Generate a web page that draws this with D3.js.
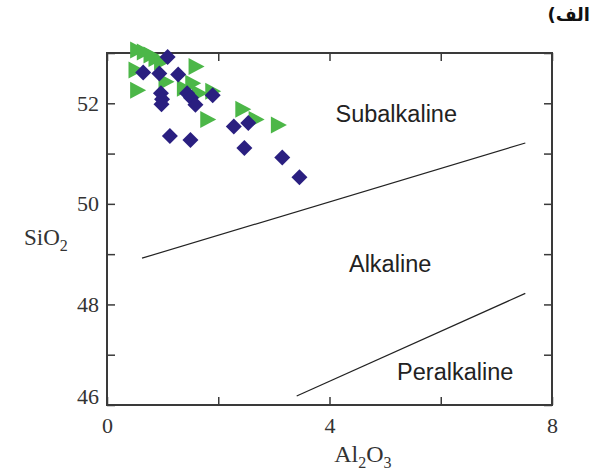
<!DOCTYPE html>
<html>
<head>
<meta charset="utf-8">
<script src="https://cdn.jsdelivr.net/npm/d3@7"></script>
<style>
  body { margin: 0; background: #fff; }
</style>
</head>
<body>
<div id="chart"></div>
<script>
// Blue diamonds
const diamondAl = [1.09, 0.65, 0.94, 1.28, 0.97, 0.99, 0.98, 1.44, 1.51, 1.59, 1.90, 2.28, 2.54, 1.13, 1.50, 2.47, 3.15, 3.46];
const diamondSi = [52.92, 52.61, 52.59, 52.57, 52.20, 52.08, 51.98, 52.20, 52.11, 51.97, 52.16, 51.54, 51.61, 51.35, 51.27, 51.11, 50.92, 50.53];

// Green triangles
const triangleAl = [0.56, 0.68, 0.80, 0.89, 0.99, 0.53, 0.56, 1.07, 1.61, 1.55, 1.67, 1.40, 1.82, 2.45, 2.69, 3.09, 1.91];
const triangleSi = [53.06, 53.02, 52.96, 52.89, 52.82, 52.66, 52.26, 52.43, 52.73, 52.40, 52.20, 52.30, 51.68, 51.88, 51.68, 51.57, 52.24];

// Field boundaries (Al2O3, SiO2 end points)
const boundaryAl = [[0.63, 7.52], [3.41, 7.52]];
const boundarySi = [[48.92, 51.21], [46.18, 48.22]];

// Field names and where they sit
const fieldNames = ["Subalkaline", "Alkaline", "Peralkaline"];
const fieldAl = [5.2, 5.09, 6.26];
const fieldSi = [51.63, 48.64, 46.5];

// Ticks
const xTicks = [0, 2, 4, 6, 8];
const xTickLabels = [0, 4, 8];
const yTicks = [46, 47, 48, 49, 50, 51, 52, 53];
const yTickLabels = [46, 48, 50, 52];

const width = 594, height = 470;
const margin = { top: 53, right: 42, bottom: 65, left: 107 };
const innerWidth = width - margin.left - margin.right;
const innerHeight = height - margin.top - margin.bottom;

const xScale = d3.scaleLinear().domain([0, 8]).range([0, innerWidth]);
const yScale = d3.scaleLinear().domain([46, 53]).range([innerHeight, 0]);

const serif = "'Liberation Serif', 'Times New Roman', serif";
const sans = "'Liberation Sans', Arial, sans-serif";

const svg = d3.select("#chart").append("svg")
  .attr("width", width)
  .attr("height", height);

const g = svg.append("g")
  .attr("transform", "translate(" + margin.left + "," + margin.top + ")");

const axisColor = "#3a3a3a";
const tickLen = 8;

// Axes, ticks point inward on all four sides
const fmtX = d => xTickLabels.includes(d) ? d : "";
const fmtY = d => yTickLabels.includes(d) ? d : "";

const xBottom = g.append("g")
  .attr("transform", "translate(0," + innerHeight + ")")
  .call(d3.axisBottom(xScale).tickValues(xTicks).tickSize(-tickLen).tickPadding(12).tickFormat(fmtX));
g.append("g")
  .call(d3.axisTop(xScale).tickValues(xTicks).tickSize(-tickLen).tickFormat(""));
const yLeft = g.append("g")
  .call(d3.axisLeft(yScale).tickValues(yTicks).tickSize(-tickLen).tickPadding(8).tickFormat(fmtY));
g.append("g")
  .attr("transform", "translate(" + innerWidth + ",0)")
  .call(d3.axisRight(yScale).tickValues(yTicks).tickSize(-tickLen).tickFormat(""));

g.selectAll(".domain").remove();
g.selectAll(".tick line").attr("stroke", axisColor).attr("stroke-width", 1.5);
g.selectAll(".tick text")
  .attr("fill", "#333")
  .style("font-family", serif)
  .style("font-size", "22px");

// the bottom y label sits a little above its tick
yLeft.selectAll(".tick").filter(d => d === 46).select("text").attr("dy", "-0.05em");

// Frame
g.append("rect")
  .attr("x", 0).attr("y", 0)
  .attr("width", innerWidth).attr("height", innerHeight)
  .attr("fill", "none")
  .attr("stroke", axisColor)
  .attr("stroke-width", 2);

// Boundary lines
boundaryAl.forEach(function(al, i) {
  g.append("line")
    .attr("x1", xScale(al[0])).attr("y1", yScale(boundarySi[i][0]))
    .attr("x2", xScale(al[1])).attr("y2", yScale(boundarySi[i][1]))
    .attr("stroke", "#222")
    .attr("stroke-width", 1.2);
});

// Field names
g.selectAll(".field")
  .data(fieldNames)
  .enter().append("text")
    .attr("class", "field")
    .attr("x", (d, i) => xScale(fieldAl[i]))
    .attr("y", (d, i) => yScale(fieldSi[i]))
    .attr("text-anchor", "middle")
    .attr("fill", "#222")
    .style("font-family", sans)
    .style("font-size", "23.5px")
    .text(d => d);

// Green triangles, pointing right
g.selectAll(".tri")
  .data(triangleAl)
  .enter().append("path")
    .attr("class", "tri")
    .attr("d", "M-8,-8.5L8,0L-8,8.5Z")
    .attr("transform", (d, i) => "translate(" + xScale(d) + "," + yScale(triangleSi[i]) + ")")
    .attr("fill", "#4cb748");

// Blue diamonds
g.selectAll(".dia")
  .data(diamondAl)
  .enter().append("path")
    .attr("class", "dia")
    .attr("d", "M0,-8L8,0L0,8L-8,0Z")
    .attr("transform", (d, i) => "translate(" + xScale(d) + "," + yScale(diamondSi[i]) + ")")
    .attr("fill", "#2a1f80");

// Axis titles with subscripts
const yTitle = svg.append("text")
  .attr("x", 24)
  .attr("y", 245)
  .attr("fill", "#333")
  .style("font-family", serif)
  .style("font-size", "23px");
yTitle.append("tspan").text("SiO");
yTitle.append("tspan").attr("dy", 6).style("font-size", "16px").text("2");

const xTitle = svg.append("text")
  .attr("x", margin.left + xScale(4.6))
  .attr("y", 462)
  .attr("text-anchor", "middle")
  .attr("fill", "#333")
  .style("font-family", serif)
  .style("font-size", "24px");
xTitle.append("tspan").text("Al");
xTitle.append("tspan").attr("dy", 6).style("font-size", "16px").text("2");
xTitle.append("tspan").attr("dy", -6).text("O");
xTitle.append("tspan").attr("dy", 6).style("font-size", "16px").text("3");

// Panel label
svg.append("text")
  .attr("x", 590)
  .attr("y", 21)
  .attr("direction", "rtl")
  .attr("fill", "#111")
  .style("font-family", "'DejaVu Sans', sans-serif")
  .style("font-weight", "bold")
  .style("font-size", "18px")
  .text("الف)");
</script>
</body>
</html>
